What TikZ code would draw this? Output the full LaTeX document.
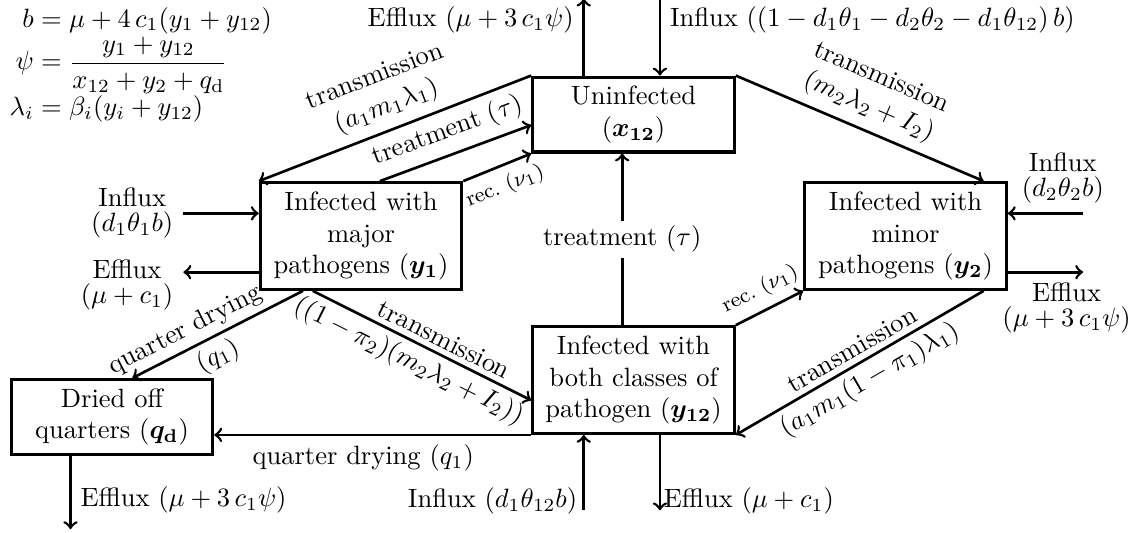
\documentclass[tikz,border=0pt]{standalone}
\usepackage{amsmath}
\usepackage{amssymb}
\usepackage{bm}
\usepackage{tikz}
\usetikzlibrary{calc}
\tikzset{box/.style={draw, line width=1.2pt, align=center, minimum width=2.67cm}}
\tikzset{flow/.style={line width=1pt}}
\tikzset{rate/.style={sloped, inner sep=2pt}}

\begin{document}
\begin{tikzpicture}
    \useasboundingbox (0,0) rectangle (15.172,7.056);
    \node[anchor=north west, inner sep=0] (defs) at (0.12,7.0) {$\begin{aligned}
      b &= \mu + 4\,c_1(y_1+y_{12})\\[-4pt]
      \psi &= \frac{y_1+y_{12}}{x_{12}+y_2+q_\mathrm{d}}\\[-4pt]
      \lambda_i &= \beta_i(y_i+y_{12})
    \end{aligned}$};
    \node[box] (x12) at (8.402,5.537) {Uninfected\\($\bm{x_{12}}$)};
    \node[box] (y1) at (4.788,3.926) {Infected with\\major\\pathogens ($\bm{y_1}$)};
    \node[box] (y2) at (12.009,3.926) {Infected with\\minor\\pathogens ($\bm{y_2}$)};
    \node[box] (y12) at (8.402,2.016) {Infected with\\both classes of\\pathogen ($\bm{y_{12}}$)};
    \node[box] (qd) at (1.485,1.525) {Dried off\\quarters ($\bm{q}_{\mathbf{d}}$)};
    \coordinate (outTop) at ($(x12.north)+(-0.66,1.02)$);
    \coordinate (inTop) at ($(x12.north)+(0.35,1.02)$);
    \coordinate (inY1) at ($(y1.west)+(-1,0.3)$);
    \coordinate (outY1) at ($(y1.west)+(-1,-0.48)$);
    \coordinate (inY2) at ($(y2.east)+(1,0.3)$);
    \coordinate (outY2) at ($(y2.east)+(1,-0.48)$);
    \coordinate (inY12) at ($(y12.south)+(-0.66,-1)$);
    \coordinate (outY12) at ($(y12.south)+(0.35,-1)$);
    \coordinate (outQd) at ($(qd.south)+(-0.55,-0.97)$);
    \draw[flow,->] (outTop |- x12.north) -- node[pos=.73, left] {Efflux ($\mu+3\,c_1\psi$)} (outTop);
    \draw[flow,->] (inTop) -- node[pos=.27, right] {Influx ($(1-d_1\theta_1-d_2\theta_2-d_1\theta_{12})\,b$)} (inTop |- x12.north);
    \draw[flow,->] (inY1) node[left, align=center] {Influx\\[-2.5pt]$(d_1\theta_1b)$} -- (inY1 -| y1.west);
    \draw[flow,->] (outY1 -| y1.west) -- (outY1) node[left, align=center, yshift=-0.17cm] {Efflux\\[-2.5pt]$(\mu+c_1)$};
    \draw[flow,->] (inY2) -- node[pos=.27, above, align=center] {Influx\\[-2.5pt]$(d_2\theta_2b)$} (inY2 -| y2.east);
    \draw[flow,->] (outY2 -| y2.east) -- node[pos=.78, below, align=center] {Efflux\\[-2.5pt]$(\mu+3\,c_1\psi)$} (outY2);
    \draw[flow,->] (inY12) -- node[pos=.13, left, inner sep=2pt] {Influx $(d_1\theta_{12}b)$} (inY12 |- y12.south);
    \draw[flow,->] (outY12 |- y12.south) -- node[pos=.87, right, inner sep=1pt] {Efflux $(\mu+c_1)$} (outY12);
    \draw[flow,->] (outQd |- qd.south) -- node[pos=.6, right] {Efflux ($\mu+3\,c_1\psi$)} (outQd);
    \draw[flow,<-] (y1.north west) -- node[above, sloped, align=center] {transmission\\$(a_1m_1\lambda_1)$} (x12.north west);
    \draw[flow,->] ($(y1.north)+(0.25,0)$) -- node[above, sloped] {treatment ($\tau$)} ($(x12.west)+(0,-0.14)$);
    \draw[flow,->] (y1.north east) -- node[below, sloped, font=\footnotesize] {rec.\ ($\nu_1$)} (x12.south west);
    \draw[flow,->] (x12.north east) -- node[above, sloped, align=center] {transmission\\$(m_2\lambda_2+I_2)$} ($(y2.north east)+(-0.32,0)$);
    \draw[flow,->] ($(y12.north)+(-0.15,0)$) -- node[fill=white, inner sep=2pt] {treatment ($\tau$)} ($(x12.south)+(-0.15,0)$);
    \draw[flow,->] (y12.north east) -- node[above, sloped, font=\footnotesize] {rec.\ ($\nu_1$)} (y2.south west);
    \draw[flow,<-] (y12.south east) -- node[rate, above] {transmission} node[rate, below] {$(a_1m_1(1-\pi_1)\lambda_1)$} ($(y2.south east)+(-0.32,0)$);
    \draw[flow,->] ($(y1.south)+(-0.64,0)$) -- node[rate, above, pos=.57] {transmission} node[rate, below, pos=.48] {$((1-\pi_2)(m_2\lambda_2+I_2))$} ($(y12.west)+(0,-0.27)$);
    \draw[flow,<-] ($(qd.north)+(0.27,0)$) -- node[rate, above, pos=.36] {quarter drying} node[rate, below, pos=.45] {$(q_1)$} ($(y1.south)+(-0.77,0)$);
    \draw[flow,->] (y12.south west) -- node[below, pos=.53] {quarter drying ($q_1$)} (y12.south west -| qd.east);
\end{tikzpicture}
\end{document}
